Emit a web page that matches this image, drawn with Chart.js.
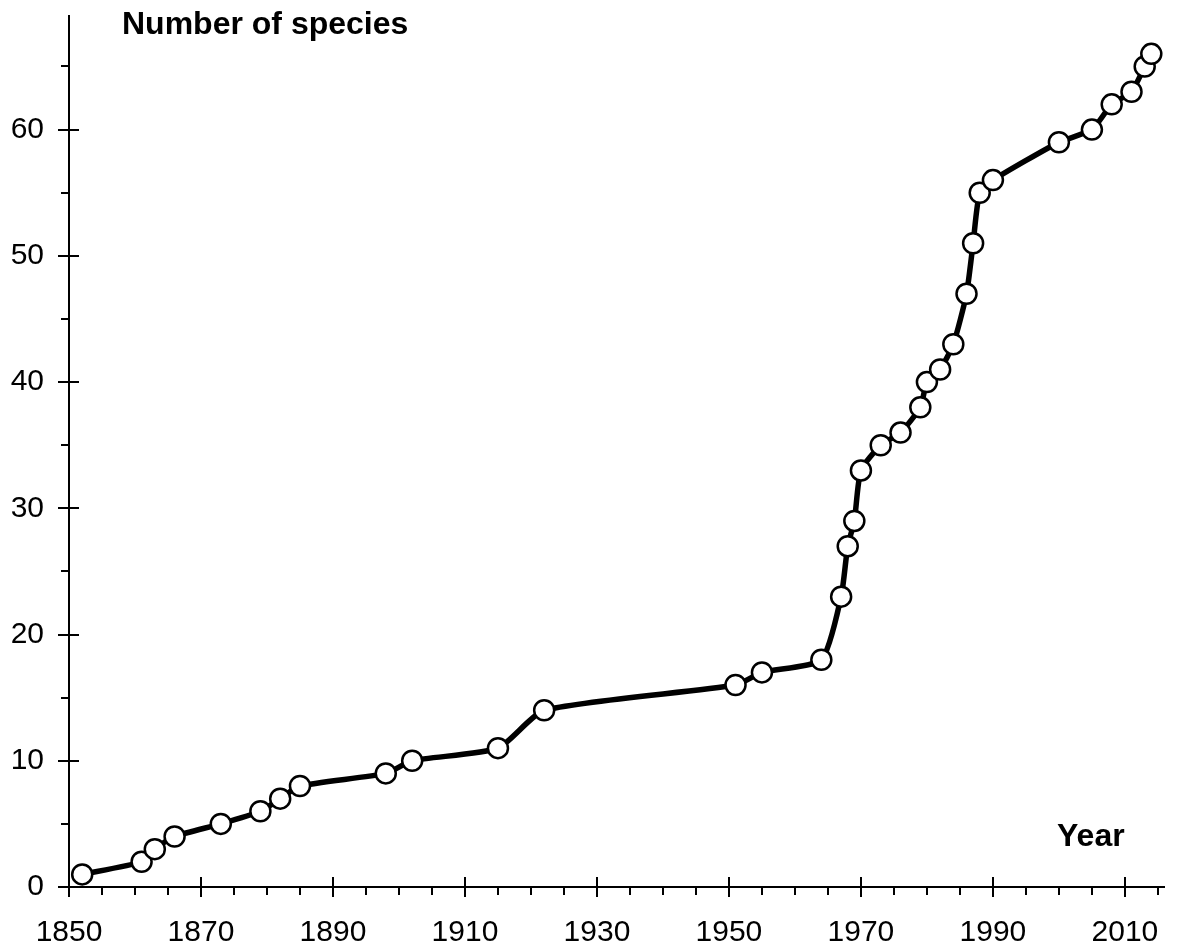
<!DOCTYPE html>
<html>
<head>
<meta charset="utf-8">
<script src="https://cdn.jsdelivr.net/npm/chart.js@4/dist/chart.umd.min.js"></script>
<style>
  body { margin: 0; background: #fff; }
  #wrap { width: 1177px; height: 950px; }
</style>
</head>
<body>
<div id="wrap"><canvas id="speciesChart"></canvas></div>
<script>
// data
var years = [1852, 1861, 1863, 1866, 1873, 1879, 1882, 1885, 1898, 1902, 1915, 1922,
             1951, 1955, 1964, 1967, 1968, 1969, 1970, 1973, 1976, 1979, 1980, 1982,
             1984, 1986, 1987, 1988, 1990, 2000, 2005, 2008, 2011, 2013, 2014];
var species = [1, 2, 3, 4, 5, 6, 7, 8, 9, 10, 11, 14,
               16, 17, 18, 23, 27, 29, 33, 35, 36, 38, 40, 41,
               43, 47, 51, 55, 56, 59, 60, 62, 63, 65, 66];
var xTicks = [1850, 1855, 1860, 1865, 1870, 1875, 1880, 1885, 1890, 1895, 1900, 1905,
              1910, 1915, 1920, 1925, 1930, 1935, 1940, 1945, 1950, 1955, 1960, 1965,
              1970, 1975, 1980, 1985, 1990, 1995, 2000, 2005, 2010, 2015];
var xLabels = [1850, 1870, 1890, 1910, 1930, 1950, 1970, 1990, 2010];
var yTicks = [0, 5, 10, 15, 20, 25, 30, 35, 40, 45, 50, 55, 60, 65];
var yLabels = [0, 10, 20, 30, 40, 50, 60];

var fontFamily = '"Liberation Sans", Arial, sans-serif';

var points = years.map(function(y, i) { return { x: y, y: species[i] }; });

// tick marks: majors cross the axis, minors point outwards
var tickMarks = {
    id: 'tickMarks',
    beforeDatasetsDraw: function(chart) {
        var ctx = chart.ctx;
        var xs = chart.scales.x, ys = chart.scales.y;
        var area = chart.chartArea;
        ctx.save();
        ctx.strokeStyle = '#000';
        ctx.lineWidth = 2;
        ctx.beginPath();
        xTicks.forEach(function(v) {
            var px = Math.round(xs.getPixelForValue(v));
            var major = xLabels.indexOf(v) >= 0;
            ctx.moveTo(px, area.bottom + (major ? 10 : 8));
            ctx.lineTo(px, area.bottom - (major ? 10 : 0));
        });
        yTicks.forEach(function(v) {
            var py = Math.round(ys.getPixelForValue(v));
            var major = yLabels.indexOf(v) >= 0;
            ctx.moveTo(area.left - (major ? 11 : 8), py);
            ctx.lineTo(area.left + (major ? 10 : 0), py);
        });
        ctx.stroke();
        ctx.restore();
    },
    afterDraw: function(chart) {
        var ctx = chart.ctx;
        ctx.save();
        ctx.fillStyle = '#000';
        ctx.font = 'bold 32px ' + fontFamily;
        ctx.textBaseline = 'alphabetic';
        ctx.fillText('Number of species', 122, 34);
        ctx.fillText('Year', 1057, 846);
        ctx.restore();
    }
};

var ctx = document.getElementById('speciesChart').getContext('2d');
var myChart = new Chart(ctx, {
    type: 'line',
    data: {
        datasets: [{
            data: points,
            borderColor: '#000',
            borderWidth: 5.5,
            tension: 0.2,
            pointRadius: 10,
            pointBorderWidth: 2.5,
            pointBackgroundColor: '#fff',
            pointBorderColor: '#000',
            clip: false
        }]
    },
    options: {
        responsive: true,
        maintainAspectRatio: false,
        animation: false,
        layout: { padding: { left: 0, top: 16, right: 4, bottom: 0 } },
        plugins: { legend: { display: false }, tooltip: { enabled: false } },
        scales: {
            x: {
                type: 'linear',
                min: 1850,
                max: 2016,
                afterBuildTicks: function(scale) {
                    scale.ticks = xTicks.map(function(v) { return { value: v }; });
                },
                afterFit: function(scale) {
                    scale.height = 63;
                    scale.paddingLeft = 0;
                    scale.paddingRight = 0;
                },
                grid: { display: false, drawTicks: false },
                border: { display: true, color: '#000', width: 2 },
                ticks: {
                    autoSkip: false,
                    maxRotation: 0,
                    padding: 28,
                    color: '#000',
                    font: { family: fontFamily, size: 30 },
                    callback: function(v) { return xLabels.indexOf(v) >= 0 ? String(v) : ''; }
                }
            },
            y: {
                type: 'linear',
                min: 0,
                max: 69,
                afterBuildTicks: function(scale) {
                    scale.ticks = yTicks.map(function(v) { return { value: v }; });
                },
                afterFit: function(scale) {
                    scale.width = 69;
                    scale.paddingTop = 0;
                    scale.paddingBottom = 0;
                },
                grid: { display: false, drawTicks: false },
                border: { display: true, color: '#000', width: 2 },
                ticks: {
                    autoSkip: false,
                    padding: 25,
                    color: '#000',
                    font: { family: fontFamily, size: 30 },
                    callback: function(v) { return yLabels.indexOf(v) >= 0 ? String(v) : ''; }
                }
            }
        }
    },
    plugins: [tickMarks]
});
</script>
</body>
</html>
